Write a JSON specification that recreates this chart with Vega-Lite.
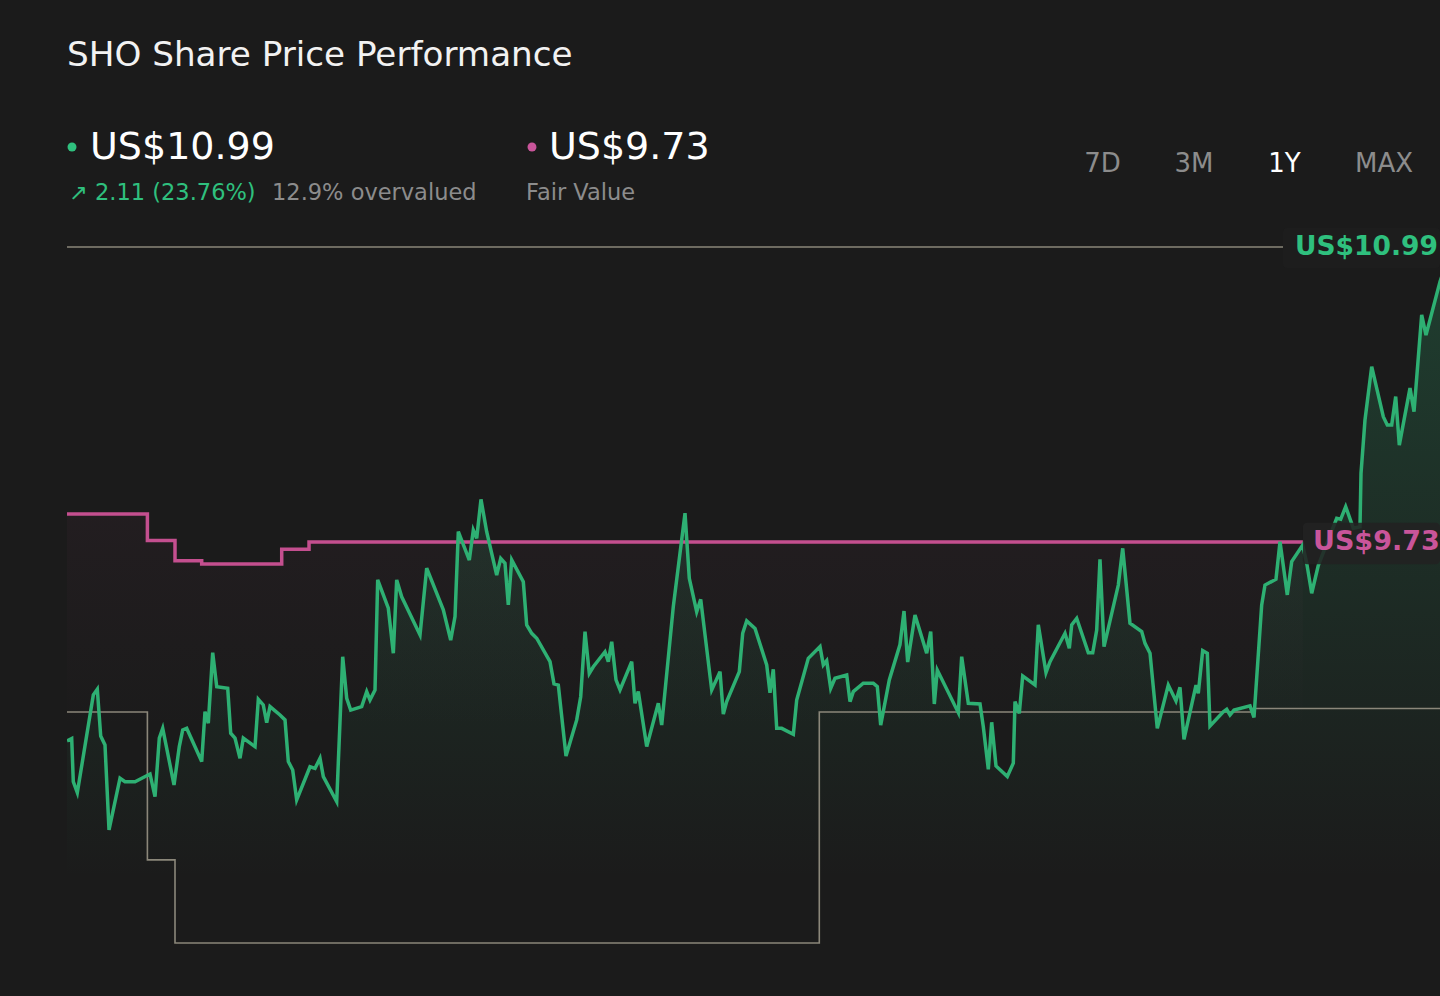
{
  "$schema": "https://vega.github.io/schema/vega-lite/v6.json",
  "width": 1373,
  "height": 702.34,
  "autosize": {"type": "none"},
  "padding": {"left": 67, "top": 244.66, "right": 0, "bottom": 49},
  "background": "#1b1b1b",
  "config": {"view": {"stroke": null}, "font": "DejaVu Sans"},
  "datasets": {
    "price": [
      {"day":0,"price":8.88},{"day":1.24,"price":8.89},{"day":1.66,"price":8.706},{"day":2.72,"price":8.659},{"day":6.94,"price":9.077},{"day":7.99,"price":9.101},{"day":8.89,"price":8.901},{"day":10.02,"price":8.863},{"day":11.08,"price":8.5},{"day":13.98,"price":8.721},{"day":15.29,"price":8.706},{"day":17.93,"price":8.706},{"day":21.89,"price":8.739},{"day":23.21,"price":8.642},{"day":24.34,"price":8.892},{"day":25.24,"price":8.934},{"day":28.22,"price":8.692},{"day":29.61,"price":8.856},{"day":30.51,"price":8.927},{"day":31.56,"price":8.934},{"day":35.52,"price":8.792},{"day":36.39,"price":9.005},{"day":37.26,"price":8.956},{"day":38.42,"price":9.257},{"day":39.48,"price":9.112},{"day":42.38,"price":9.105},{"day":43.17,"price":8.913},{"day":44.3,"price":8.892},{"day":45.62,"price":8.806},{"day":46.49,"price":8.892},{"day":49.58,"price":8.856},{"day":50.45,"price":9.058},{"day":51.76,"price":9.034},{"day":52.66,"price":8.958},{"day":53.53,"price":9.027},{"day":56.17,"price":8.991},{"day":57.49,"price":8.97},{"day":58.36,"price":8.792},{"day":59.52,"price":8.756},{"day":60.57,"price":8.628},{"day":64.08,"price":8.77},{"day":65.4,"price":8.763},{"day":66.72,"price":8.806},{"day":67.59,"price":8.728},{"day":71.12,"price":8.621},{"day":72.7,"price":9.24},{"day":73.76,"price":9.062},{"day":74.81,"price":9.012},{"day":77.71,"price":9.027},{"day":79.03,"price":9.091},{"day":79.9,"price":9.055},{"day":81.22,"price":9.098},{"day":81.93,"price":9.568},{"day":84.73,"price":9.447},{"day":86.05,"price":9.255},{"day":86.94,"price":9.568},{"day":88.26,"price":9.496},{"day":93.09,"price":9.333},{"day":94.85,"price":9.618},{"day":99.23,"price":9.44},{"day":101.18,"price":9.311},{"day":102.32,"price":9.411},{"day":103.19,"price":9.774},{"day":106.09,"price":9.653},{"day":107.14,"price":9.781},{"day":108.04,"price":9.746},{"day":109.17,"price":9.912},{"day":110.67,"price":9.774},{"day":113.31,"price":9.589},{"day":114.37,"price":9.66},{"day":115.5,"price":9.639},{"day":116.37,"price":9.461},{"day":117.27,"price":9.653},{"day":120.33,"price":9.56},{"day":121.22,"price":9.376},{"day":122.54,"price":9.34},{"day":123.86,"price":9.319},{"day":127.37,"price":9.219},{"day":128.42,"price":9.124},{"day":129.56,"price":9.119},{"day":131.59,"price":8.816},{"day":134.41,"price":8.97},{"day":135.46,"price":9.069},{"day":136.6,"price":9.347},{"day":137.73,"price":9.169},{"day":138.79,"price":9.197},{"day":141.87,"price":9.261},{"day":142.74,"price":9.219},{"day":143.64,"price":9.304},{"day":144.77,"price":9.141},{"day":145.83,"price":9.098},{"day":148.91,"price":9.219},{"day":149.78,"price":9.041},{"day":150.65,"price":9.091},{"day":152.87,"price":8.856},{"day":155.93,"price":9.041},{"day":156.82,"price":8.948},{"day":159.88,"price":9.454},{"day":162.97,"price":9.853},{"day":164.1,"price":9.575},{"day":166.05,"price":9.432},{"day":167.11,"price":9.485},{"day":170.01,"price":9.098},{"day":172.2,"price":9.176},{"day":173.07,"price":8.995},{"day":173.96,"price":9.048},{"day":177.29,"price":9.176},{"day":178.18,"price":9.34},{"day":179.24,"price":9.393},{"day":181.43,"price":9.361},{"day":184.51,"price":9.205},{"day":185.38,"price":9.086},{"day":186.25,"price":9.186},{"day":187.15,"price":8.934},{"day":188.47,"price":8.934},{"day":191.53,"price":8.909},{"day":192.42,"price":9.055},{"day":195.48,"price":9.233},{"day":198.57,"price":9.283},{"day":199.44,"price":9.205},{"day":200.33,"price":9.223},{"day":201.39,"price":9.105},{"day":202.52,"price":9.148},{"day":205.61,"price":9.162},{"day":206.48,"price":9.048},{"day":207.35,"price":9.091},{"day":209.98,"price":9.127},{"day":212.62,"price":9.127},{"day":213.68,"price":9.112},{"day":214.57,"price":8.948},{"day":216.84,"price":9.141},{"day":219.66,"price":9.292},{"day":220.72,"price":9.435},{"day":221.69,"price":9.217},{"day":223.62,"price":9.418},{"day":226.7,"price":9.255},{"day":227.76,"price":9.347},{"day":228.71,"price":9.038},{"day":229.5,"price":9.183},{"day":235.04,"price":9.001},{"day":235.93,"price":9.24},{"day":237.67,"price":9.041},{"day":240.76,"price":9.038},{"day":241.63,"price":8.941},{"day":242.95,"price":8.759},{"day":243.84,"price":8.96},{"day":244.98,"price":8.773},{"day":247.96,"price":8.728},{"day":249.54,"price":8.785},{"day":249.99,"price":9.048},{"day":251.12,"price":8.998},{"day":252.02,"price":9.158},{"day":255.26,"price":9.119},{"day":256.13,"price":9.376},{"day":258.16,"price":9.172},{"day":259.22,"price":9.219},{"day":263.17,"price":9.34},{"day":264.31,"price":9.276},{"day":264.94,"price":9.376},{"day":266.26,"price":9.404},{"day":269.32,"price":9.257},{"day":270.48,"price":9.257},{"day":271.53,"price":9.354},{"day":272.4,"price":9.656},{"day":273.46,"price":9.283},{"day":277.23,"price":9.546},{"day":278.39,"price":9.703},{"day":280.31,"price":9.383},{"day":283.4,"price":9.347},{"day":284.27,"price":9.297},{"day":285.59,"price":9.255},{"day":287.51,"price":8.934},{"day":290.41,"price":9.119},{"day":292.44,"price":9.051},{"day":293.5,"price":9.109},{"day":294.55,"price":8.887},{"day":297.72,"price":9.119},{"day":298.32,"price":9.084},{"day":299.48,"price":9.266},{"day":300.7,"price":9.255},{"day":301.41,"price":8.944},{"day":304.92,"price":9.005},{"day":305.81,"price":9.015},{"day":306.68,"price":8.991},{"day":307.74,"price":9.012},{"day":311.96,"price":9.03},{"day":313.01,"price":8.981},{"day":315.04,"price":9.461},{"day":315.91,"price":9.546},{"day":318.81,"price":9.571},{"day":319.87,"price":9.731},{"day":321.79,"price":9.504},{"day":322.95,"price":9.646},{"day":325.85,"price":9.717},{"day":326.91,"price":9.64},{"day":328.23,"price":9.511},{"day":329.97,"price":9.63},{"day":334.82,"price":9.831},{"day":335.87,"price":9.827},{"day":337.19,"price":9.881},{"day":339.2,"price":9.789},{"day":340.96,"price":9.795},{"day":341.23,"price":10.023},{"day":342.28,"price":10.251},{"day":344.05,"price":10.479},{"day":347.11,"price":10.265},{"day":348.16,"price":10.23},{"day":349.32,"price":10.23},{"day":350.38,"price":10.351},{"day":351.33,"price":10.144},{"day":354.15,"price":10.387},{"day":355.21,"price":10.287},{"day":357.23,"price":10.7},{"day":358.37,"price":10.614},{"day":362.06,"price":10.842},{"day":365.22,"price":10.99}
    ],
    "fair": [
      {"day":0,"value":9.85},{"day":21.2,"value":9.736},{"day":28.48,"value":9.65},{"day":35.52,"value":9.636},{"day":56.62,"value":9.699},{"day":63.82,"value":9.73},{"day":325.9,"value":9.73}
    ],
    "ref": [
      {"day":0,"value":9.004},{"day":21.2,"value":8.372},{"day":28.48,"value":8.017},{"day":198.38,"value":9.004},{"day":312.75,"value":9.019},{"day":362.06,"value":9.019}
    ],
    "one": [{}]
  },
  "layer": [
    {
      "data": {"name": "fair"},
      "mark": {"type": "area", "interpolate": "step-after", "clip": true,
        "color": {"gradient": "linear", "x1": 0, "y1": 0, "x2": 0, "y2": 1,
          "stops": [{"offset": 0, "color": "rgba(196,79,143,0.045)"}, {"offset": 0.6, "color": "rgba(196,79,143,0)"}]}},
      "encoding": {
        "x": {"field": "day", "type": "quantitative", "scale": {"domain": [0, 362.06], "nice": false, "zero": false}, "axis": null},
        "y": {"field": "value", "type": "quantitative", "scale": {"domain": [8, 11], "nice": false, "zero": false}, "axis": null},
        "y2": {"datum": 8.29}
      }
    },
    {
      "data": {"name": "price"},
      "mark": {"type": "area", "clip": true,
        "color": {"gradient": "linear", "x1": 0, "y1": 0, "x2": 0, "y2": 1,
          "stops": [{"offset": 0, "color": "rgba(46,176,115,0.24)"}, {"offset": 1, "color": "rgba(46,176,115,0)"}]}},
      "encoding": {
        "x": {"field": "day", "type": "quantitative"},
        "y": {"field": "price", "type": "quantitative"},
        "y2": {"datum": 8.29}
      }
    },
    {
      "data": {"name": "one"},
      "mark": {"type": "rule", "color": "#8b877a", "strokeWidth": 1.5},
      "encoding": {"x": {"datum": 0}, "x2": {"datum": 320.66}, "y": {"datum": 10.99}}
    },
    {
      "data": {"name": "ref"},
      "mark": {"type": "line", "interpolate": "step-after", "color": "#8b877a", "strokeWidth": 1.6, "clip": true},
      "encoding": {
        "x": {"field": "day", "type": "quantitative"},
        "y": {"field": "value", "type": "quantitative"}
      }
    },
    {
      "data": {"name": "fair"},
      "mark": {"type": "line", "interpolate": "step-after", "color": "#c44f8f", "strokeWidth": 3.5, "clip": true},
      "encoding": {
        "x": {"field": "day", "type": "quantitative"},
        "y": {"field": "value", "type": "quantitative"}
      }
    },
    {
      "data": {"name": "price"},
      "mark": {"type": "line", "color": "#2eb073", "strokeWidth": 3.5, "clip": true},
      "encoding": {
        "x": {"field": "day", "type": "quantitative"},
        "y": {"field": "price", "type": "quantitative"}
      }
    },
    {
      "data": {"name": "one"},
      "mark": {"type": "rect", "color": "#1e1e1e", "opacity": 0.9, "cornerRadius": 4},
      "encoding": {"x": {"datum": 320.66}, "x2": {"datum": 362.06}, "y": {"datum": 11.071}, "y2": {"datum": 10.9}}
    },
    {
      "data": {"name": "one"},
      "mark": {"type": "rect", "color": "#222222", "opacity": 0.88, "cornerRadius": 4},
      "encoding": {"x": {"datum": 325.93}, "x2": {"datum": 362.06}, "y": {"datum": 9.812}, "y2": {"datum": 9.635}}
    },
    {
      "data": {"name": "one"},
      "mark": {"type": "text", "align": "left", "baseline": "middle", "fontSize": 26.5, "fontWeight": "bold", "color": "#2fc07e"},
      "encoding": {"x": {"datum": 323.82}, "y": {"datum": 10.99}, "text": {"value": "US$10.99"}}
    },
    {
      "data": {"name": "one"},
      "mark": {"type": "text", "align": "left", "baseline": "middle", "fontSize": 27, "fontWeight": "bold", "color": "#c9559a"},
      "encoding": {"x": {"datum": 328.57}, "y": {"datum": 9.73}, "text": {"value": "US$9.73"}}
    },
    {
      "data": {"name": "one"},
      "mark": {"type": "text", "align": "left", "baseline": "alphabetic", "fontSize": 34.2, "color": "#f2f2f2"},
      "encoding": {"x": {"datum": 0}, "y": {"datum": 11.763}, "text": {"value": "SHO Share Price Performance"}}
    },
    {
      "data": {"name": "one"},
      "mark": {"type": "point", "filled": true, "size": 80, "opacity": 1, "color": "#2fc07e"},
      "encoding": {"x": {"datum": 1.32}, "y": {"datum": 11.417}}
    },
    {
      "data": {"name": "one"},
      "mark": {"type": "point", "filled": true, "size": 80, "opacity": 1, "color": "#c9559a"},
      "encoding": {"x": {"datum": 122.62}, "y": {"datum": 11.417}}
    },
    {
      "data": {"name": "one"},
      "mark": {"type": "text", "align": "left", "baseline": "alphabetic", "fontSize": 38, "color": "#ffffff"},
      "encoding": {"x": {"datum": 6.07}, "y": {"datum": 11.364}, "text": {"value": "US$10.99"}}
    },
    {
      "data": {"name": "one"},
      "mark": {"type": "text", "align": "left", "baseline": "alphabetic", "fontSize": 38, "color": "#ffffff"},
      "encoding": {"x": {"datum": 127.1}, "y": {"datum": 11.364}, "text": {"value": "US$9.73"}}
    },
    {
      "data": {"name": "one"},
      "mark": {"type": "text", "align": "left", "baseline": "alphabetic", "fontSize": 22.5, "color": "#2fc07e"},
      "encoding": {"x": {"datum": 0.53}, "y": {"datum": 11.191}, "text": {"value": "↗ 2.11 (23.76%)"}}
    },
    {
      "data": {"name": "one"},
      "mark": {"type": "text", "align": "left", "baseline": "alphabetic", "fontSize": 22.5, "color": "#8c8c8c"},
      "encoding": {"x": {"datum": 54.06}, "y": {"datum": 11.191}, "text": {"value": "12.9% overvalued"}}
    },
    {
      "data": {"name": "one"},
      "mark": {"type": "text", "align": "left", "baseline": "alphabetic", "fontSize": 22.5, "color": "#8c8c8c"},
      "encoding": {"x": {"datum": 121.04}, "y": {"datum": 11.191}, "text": {"value": "Fair Value"}}
    },
    {
      "data": {"name": "one"},
      "mark": {"type": "text", "align": "center", "baseline": "alphabetic", "fontSize": 26, "color": "#8c8c8c"},
      "encoding": {"x": {"datum": 273.06}, "y": {"datum": 11.309}, "text": {"value": "7D"}}
    },
    {
      "data": {"name": "one"},
      "mark": {"type": "text", "align": "center", "baseline": "alphabetic", "fontSize": 26, "color": "#8c8c8c"},
      "encoding": {"x": {"datum": 297.19}, "y": {"datum": 11.309}, "text": {"value": "3M"}}
    },
    {
      "data": {"name": "one"},
      "mark": {"type": "text", "align": "center", "baseline": "alphabetic", "fontSize": 26, "color": "#ffffff"},
      "encoding": {"x": {"datum": 321.05}, "y": {"datum": 11.309}, "text": {"value": "1Y"}}
    },
    {
      "data": {"name": "one"},
      "mark": {"type": "text", "align": "center", "baseline": "alphabetic", "fontSize": 26, "color": "#8c8c8c"},
      "encoding": {"x": {"datum": 347.29}, "y": {"datum": 11.309}, "text": {"value": "MAX"}}
    }
  ]
}
